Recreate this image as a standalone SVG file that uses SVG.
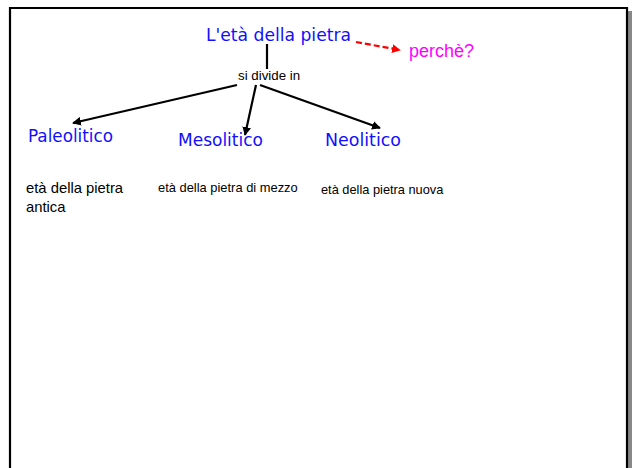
<svg xmlns="http://www.w3.org/2000/svg" width="637" height="468" viewBox="0 0 637 468">
<style>
.hand{font-family:"DejaVu Sans","Noto Sans",sans-serif;fill:#1010ff}
.plain{font-family:"Liberation Sans",Arial,sans-serif;fill:#000}
.conn{stroke:#000;stroke-width:2.2;fill:none}
</style>
<defs>
<marker id="ah" viewBox="0 0 10 10" refX="9" refY="5" markerWidth="4" markerHeight="4" orient="auto" markerUnits="strokeWidth">
<path d="M0,0 L10,5 L0,10 z" fill="#000"/>
</marker>
<marker id="ahr" viewBox="0 0 10 10" refX="9" refY="5" markerWidth="4" markerHeight="4" orient="auto" markerUnits="strokeWidth">
<path d="M0,0 L10,5 L0,10 z" fill="#ff0000"/>
</marker>
</defs>
<rect width="637" height="468" fill="#fff"/>
<g id="frame">
<rect x="628" y="11" width="4" height="457" fill="#888"/>
<path d="M10,468 V8 H627 V468" fill="none" stroke="#000" stroke-width="2.2"/>
</g>
<g id="connectors">
<line class="conn" x1="267" y1="44" x2="267" y2="69"/>
<line class="conn" x1="237" y1="85" x2="73" y2="123" marker-end="url(#ah)"/>
<line class="conn" x1="256" y1="85" x2="245" y2="135" marker-end="url(#ah)"/>
<line class="conn" x1="260" y1="85" x2="380" y2="128" marker-end="url(#ah)"/>
<line x1="356" y1="42" x2="400" y2="50" stroke="#ff0000" stroke-width="2.2" stroke-dasharray="6,3" marker-end="url(#ahr)"/>
</g>
<g id="title"><text class="hand" x="206" y="41" font-size="18.5" textLength="145" lengthAdjust="spacingAndGlyphs">L'età della pietra</text></g>
<g id="perche"><text x="409" y="57" font-family="Liberation Sans,Arial,sans-serif" font-size="18" fill="#ff00ff">perchè?</text></g>
<g id="divide"><text class="plain" x="238" y="80" font-size="13.3">si divide in</text></g>
<g id="paleolitico"><text class="hand" x="28" y="142" font-size="17.5" textLength="85" lengthAdjust="spacingAndGlyphs">Paleolitico</text></g>
<g id="mesolitico"><text class="hand" x="178" y="146" font-size="17.5" textLength="85" lengthAdjust="spacingAndGlyphs">Mesolitico</text></g>
<g id="neolitico"><text class="hand" x="325" y="146" font-size="17.5" textLength="76" lengthAdjust="spacingAndGlyphs">Neolitico</text></g>
<g id="desc-paleo"><text class="plain" x="26" y="193" font-size="14.8">età della pietra</text><text class="plain" x="26" y="212" font-size="14.8">antica</text></g>
<g id="desc-meso"><text class="plain" x="158" y="192" font-size="12.9">età della pietra di mezzo</text></g>
<g id="desc-neo"><text class="plain" x="321" y="194" font-size="12.8">età della pietra nuova</text></g>
</svg>
